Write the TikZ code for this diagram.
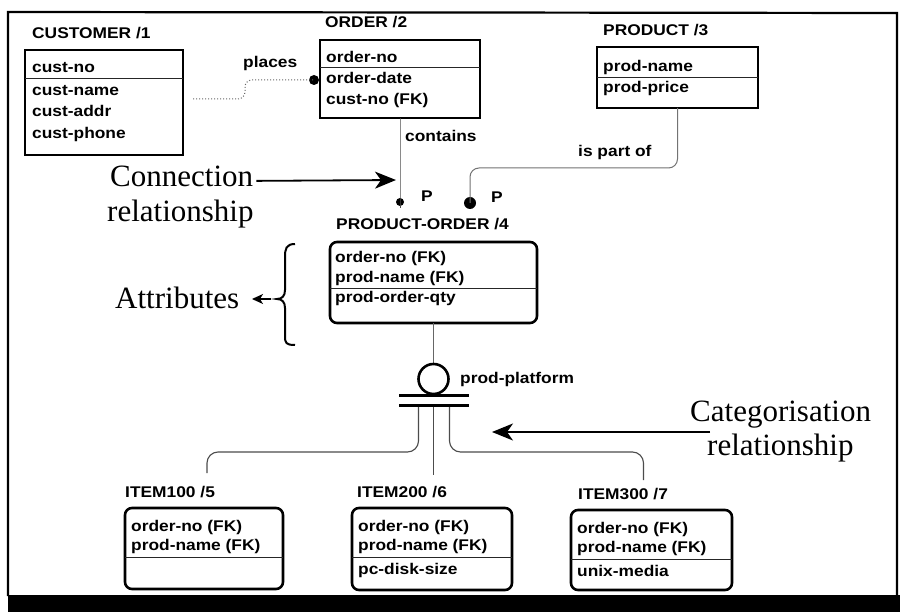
\documentclass[tikz,border=0pt]{standalone}
\usepackage{fontspec}
\setmainfont{Liberation Serif}
\newfontfamily\erfont[FakeStretch=1.12]{Liberation Sans Bold}
\usetikzlibrary{arrows.meta,calc}
\begin{document}
\begin{tikzpicture}[x=1pt,y=-1pt,
  ent/.style={draw=black, line width=2.6pt, anchor=north west, inner sep=0pt, outer sep=0pt},
  dep/.style={ent, rounded corners=7pt},
  ttl/.style={anchor=base west, inner sep=0pt, font=\erfont\fontsize{15.5}{18}\selectfont},
  att/.style={ttl},
  divider/.style={line width=0.8pt, draw=black!85},
  rel/.style={draw=black!70, line width=1pt},
  catline/.style={draw=black!70, line width=1.1pt, rounded corners=11pt},
  note/.style={inner sep=0pt, font=\fontsize{31}{36}\selectfont},
  notearrow/.style={line width=1.8pt, -{Stealth[length=21pt,width=17pt,inset=6pt]}},
]
\useasboundingbox (0,0) rectangle (900,612);
\fill[white] (0,0) rectangle (900,612);

% sheet frame
\fill[black] (8,595) rectangle (900,612);
\draw[line width=2.2pt] (8,596) -- (8,12) -- (897,13) -- (897,596);

% ---------- CUSTOMER
\node[ttl] (custT) at (32,38.5) {CUSTOMER /1};
\node[ent, minimum width=158, minimum height=105] (cust) at (25,50) {};
\node[att] (c1) at (32,72.5) {cust-no};
\draw[divider] (cust.west |- 0,78) -- (cust.east |- 0,78);
\node[att] (c2) at (32,95.5) {cust-name};
\node[att] (c3) at (32,116.5) {cust-addr};
\node[att] (c4) at (32,138.5) {cust-phone};

% ---------- ORDER
\node[ttl] (ordT) at (325,27.5) {ORDER /2};
\node[ent, minimum width=160, minimum height=78] (order) at (320,40) {};
\node[att] (o1) at (326,62.5) {order-no};
\draw[divider] (order.west |- 0,67) -- (order.east |- 0,67);
\node[att] (o2) at (326,83.5) {order-date};
\node[att] (o3) at (326,104.5) {cust-no (FK)};

% ---------- PRODUCT
\node[ttl] (prodT) at (603,35.5) {PRODUCT /3};
\node[ent, minimum width=161, minimum height=61] (prod) at (597,47) {};
\node[att] (p1) at (603,71.5) {prod-name};
\draw[divider] (prod.west |- 0,77) -- (prod.east |- 0,77);
\node[att] (p2) at (603,92.5) {prod-price};

% ---------- PRODUCT-ORDER
\node[ttl] (poT) at (336,229.5) {PRODUCT-ORDER /4};
\node[dep, minimum width=207, minimum height=81] (po) at (330,242) {};
\node[att] (q1) at (335,262.5) {order-no (FK)};
\node[att] (q2) at (335,282.5) {prod-name (FK)};
\draw[divider] (po.west |- 0,288) -- (po.east |- 0,288);
\node[att] (q3) at (335,303) {prod-order-qty};

% ---------- ITEM100
\node[ttl] (i1T) at (125,497.5) {ITEM100 /5};
\node[dep, minimum width=158, minimum height=81] (i100) at (125,508) {};
\node[att] (a1) at (131,531.5) {order-no (FK)};
\node[att] (a2) at (131,550.5) {prod-name (FK)};
\draw[divider] (i100.west |- 0,557) -- (i100.east |- 0,557);

% ---------- ITEM200
\node[ttl] (i2T) at (357,497.5) {ITEM200 /6};
\node[dep, minimum width=160, minimum height=82] (i200) at (352,508) {};
\node[att] (b1) at (358,531.5) {order-no (FK)};
\node[att] (b2) at (358,550.5) {prod-name (FK)};
\draw[divider] (i200.west |- 0,557) -- (i200.east |- 0,557);
\node[att] (b3) at (358,574) {pc-disk-size};

% ---------- ITEM300
\node[ttl] (i3T) at (578,499) {ITEM300 /7};
\node[dep, minimum width=161, minimum height=80] (i300) at (571,510) {};
\node[att] (d1) at (577,533.5) {order-no (FK)};
\node[att] (d2) at (577,552.5) {prod-name (FK)};
\draw[divider] (i300.west |- 0,559) -- (i300.east |- 0,559);
\node[att] (d3) at (577,576) {unix-media};

% ---------- relationship ends
\node[circle, fill=black, inner sep=0pt, minimum size=10pt] (pdotA) at (314,80) {};
\node[circle, fill=black, inner sep=0pt, minimum size=8pt] (cdot) at (400,202) {};
\node[circle, fill=black, inner sep=0pt, minimum size=12pt] (pdotB) at (470,203) {};
\node[ttl] (PA) at (421,201.5) {P};
\node[ttl] (PB) at (491,202.5) {P};

% places (non-identifying, dotted)
\coordinate (plA) at ($(cust.east)+(10,-3.5)$);
\draw[draw=black!60, line width=1pt, dotted, rounded corners=7pt]
  (plA) -| (245,80) -- (pdotA.center);
\node[ttl] (places) at (243,67.5) {places};

% contains (identifying)
\draw[rel] (order.south) -- (cdot.center) -- ++(0,6);
\node[ttl] (contains) at (405,142) {contains};

% is part of (identifying)
\coordinate (pbend) at (470,168);
\draw[rel, draw=black!55, rounded corners=9pt] (prod.south) |- (pbend) -- (pdotB.center);
\node[ttl] (partof) at (578,157) {is part of};

% ---------- categorisation
\draw[rel, draw=black!60] (po.south) -- (433.5,363);
\node[circle, draw=black, line width=2.6pt, inner sep=0pt, minimum size=30pt] (cat) at (433.5,379) {};
\node[fill=black, inner sep=0pt, minimum width=70pt, minimum height=3pt] (barA) at (433.5,395.5) {};
\node[fill=black, inner sep=0pt, minimum width=70pt, minimum height=3pt] (barB) at (433.5,405.5) {};
\node[ttl] (disc) at (460,383.5) {prod-platform};

\coordinate (endA) at ($(i100.north)+(3,-35)$);
\coordinate (endB) at ($(i200.north)+(1.6,-33)$);
\coordinate (endC) at ($(i300.north)+(-8,-30)$);
\draw[catline] ($(barB.south)+(-15,0)$) |- (endA |- 0,452) -- (endA);
\draw[catline] (endB |- barB.south) -- (endB);
\draw[catline] ($(barB.south)+(16,0)$) |- (endC |- 0,452) -- (endC);

% ---------- annotations
\node[note, anchor=base west] (conn) at (110,187) {Connection};
\node[note, anchor=base west] (connB) at (107,222) {relationship};
\coordinate (conntip) at (396,180);
\draw[notearrow] ($(conn.east)+(3,4)$) -- (conntip);

\node[note, anchor=base west] (attr) at (115,309) {Attributes};
\draw[line width=2pt]
  (295,244) .. controls (286,244) and (285,249) .. (285,257)
  -- (285,290) .. controls (285,296) and (282,299) .. (277,299)
  .. controls (282,299) and (285,302) .. (285,308)
  -- (285,336) .. controls (285,343) and (286,345) .. (295,345);
\coordinate (attrtip) at (252,299);
\draw[line width=1.4pt, -{Stealth[length=11pt,width=10pt,inset=3pt]}] (271,299) -- (attrtip);

\node[note, anchor=base west] (catg) at (690,421) {Categorisation};
\node[note, anchor=base west] (catgB) at (707,455) {relationship};
\coordinate (cattail) at (710,432);
\coordinate (cattip) at (492,432);
\draw[notearrow] (cattail) -- (cattip);
\end{tikzpicture}
\end{document}
